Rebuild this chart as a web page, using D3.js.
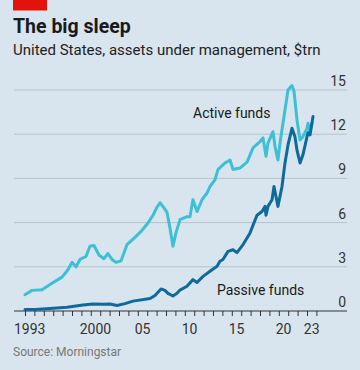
<!DOCTYPE html>
<html><head><meta charset="utf-8">
<script src="https://cdn.jsdelivr.net/npm/d3@7"></script>
<style>
html,body{margin:0;padding:0;background:#d8e5ee;}
svg{display:block;font-family:Roboto,"Noto Sans",sans-serif;}
</style></head>
<body><svg id="c" width="360" height="370"></svg>
<script>
const activeYears = [1993.0,1993.74,1994.81,1995.66,1996.94,1997.57,1998.0,1998.43,1998.85,1999.49,1999.91,2000.34,2000.87,2001.40,2001.83,2002.26,2002.68,2003.21,2003.85,2004.70,2005.34,2006.0,2006.62,2007.0,2007.36,2007.79,2008.11,2008.43,2008.74,2009.06,2009.49,2010.23,2010.55,2010.87,2011.30,2011.83,2012.36,2012.68,2013.21,2013.53,2014.28,2014.81,2015.13,2015.87,2016.62,2017.26,2018.0,2018.32,2018.64,2018.85,2019.38,2019.60,2019.91,2020.13,2020.34,2020.66,2020.98,2021.40,2021.62,2021.94,2022.26,2022.57,2023.0,2023.11,2023.32,2023.53];
const activeValues = [1.1,1.4,1.45,1.8,2.3,2.8,3.3,3.0,3.5,3.7,4.4,4.45,3.8,3.55,3.9,3.5,3.3,3.4,4.5,5.0,5.4,5.9,6.5,7.0,7.35,7.0,6.7,5.6,4.4,5.3,6.2,6.4,6.4,7.55,6.75,7.55,8.0,8.45,8.9,9.6,10.05,10.25,9.6,9.7,10.1,11.07,11.5,11.75,10.5,11.4,12.17,11.16,10.25,11.4,12.3,13.65,15.0,15.3,14.9,12.95,11.6,11.83,12.4,12.75,12.17,12.75];
const passiveYears = [1993.0,1994.06,1995.66,1997.47,1999.17,2000.23,2001.30,2002.04,2002.79,2003.64,2004.49,2006.30,2006.83,2007.47,2007.89,2008.21,2008.74,2009.17,2009.49,2010.23,2010.87,2011.30,2011.94,2012.68,2013.43,2013.74,2014.06,2014.60,2015.13,2015.55,2016.19,2016.94,2017.68,2018.21,2018.53,2018.64,2018.85,2019.28,2019.49,2019.70,2019.91,2020.34,2020.66,2020.98,2021.40,2021.72,2021.94,2022.26,2022.57,2023.0,2023.11,2023.32,2023.64];
const passiveValues = [0.1,0.1,0.17,0.26,0.4,0.47,0.45,0.47,0.37,0.5,0.67,0.85,1.05,1.5,1.4,1.2,1.02,1.2,1.42,1.68,2.13,1.93,2.35,2.7,3.03,3.37,3.5,4.05,4.16,3.96,4.5,5.3,6.5,6.75,7.1,6.5,7.1,7.55,8.45,7.77,7.1,8.45,10.05,11.27,12.4,11.83,10.9,10.05,10.6,11.83,12.1,11.95,13.2];
const yTicks = [0,3,6,9,12,15];
const xTickYears = d3.range(1993, 2025);
const xLabelYears = [1993,2000,2005,2010,2015,2020,2023];
const xLabels = ["1993","2000","05","10","15","20","23"];

const svg = d3.select("#c");
const x = d3.scaleLinear().domain([1993, 2024]).range([25, 316.4]);
const y = d3.scaleLinear().domain([0, 15]).range([311, 90]);

// header
svg.append("rect").attr("x",13).attr("y",0).attr("width",34).attr("height",10.5).attr("fill","#e3120b");
svg.append("text").attr("x",13).attr("y",33).attr("font-size",19.5).attr("font-weight",700).attr("fill","#1a1a1a").text("The big sleep");
svg.append("text").attr("x",13).attr("y",55).attr("font-size",15).attr("fill","#222").text("United States, assets under management, $trn");

// gridlines
svg.append("g").selectAll("line").data(yTicks.filter(d=>d>0)).join("line")
  .attr("x1",14).attr("x2",347).attr("y1",d=>y(d)).attr("y2",d=>y(d))
  .attr("stroke","#b4c3cc").attr("stroke-width",1);
svg.append("g").selectAll("text").data(yTicks).join("text")
  .attr("x",346).attr("y",d=>y(d)-4).attr("text-anchor","end")
  .attr("font-size",14).attr("fill","#333").text(d=>d);

// x axis
const xa = svg.append("g").attr("transform","translate(0,311)")
  .call(d3.axisBottom(x).tickValues(xTickYears).tickSize(5).tickFormat(""));
xa.select(".domain").remove();
xa.selectAll(".tick line").attr("stroke","#333").attr("stroke-width",1);
svg.append("line").attr("x1",14).attr("x2",347).attr("y1",311).attr("y2",311).attr("stroke","#333").attr("stroke-width",1.2);
svg.append("g").selectAll("text").data(xLabelYears).join("text")
  .attr("x",d=>x(d+0.5)).attr("y",334).attr("text-anchor","middle")
  .attr("font-size",14).attr("fill","#333").text((d,i)=>xLabels[i]);

// lines
const line = d3.line().x(d=>x(d[0])).y(d=>y(d[1])).curve(d3.curveLinear);
svg.append("path").datum(activeYears.map((d,i)=>[d,activeValues[i]]))
  .attr("d",line).attr("fill","none").attr("stroke","#3dbfd4").attr("stroke-width",3).attr("stroke-linejoin","round").attr("stroke-linecap","round");
svg.append("path").datum(passiveYears.map((d,i)=>[d,passiveValues[i]]))
  .attr("d",line).attr("fill","none").attr("stroke","#0f6a9c").attr("stroke-width",3).attr("stroke-linejoin","round").attr("stroke-linecap","round");

// labels
svg.append("text").attr("x",193).attr("y",118).attr("font-size",14).attr("fill","#1a1a1a").text("Active funds");
svg.append("text").attr("x",217).attr("y",295).attr("font-size",14).attr("fill","#1a1a1a").text("Passive funds");
svg.append("text").attr("x",13).attr("y",356).attr("font-size",12).attr("fill","#777").text("Source: Morningstar");
</script></body></html>
